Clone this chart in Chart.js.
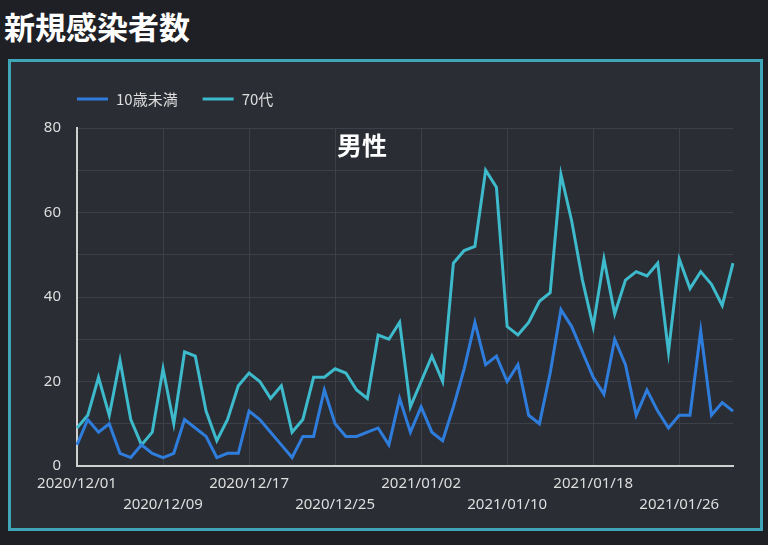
<!DOCTYPE html>
<html>
<head>
<meta charset="utf-8">
<script src="https://cdn.jsdelivr.net/npm/chart.js@4"></script>
<style>
  html, body { margin: 0; padding: 0; background: #1f2025; width: 768px; height: 545px; overflow: hidden; }
  #page-title {
    position: absolute; left: 4px; top: 3px;
    font: bold 31px "Noto Sans CJK JP", sans-serif; color: #ffffff;
  }
  #frame {
    position: absolute; left: 8px; top: 59px; width: 749px; height: 466px;
    border: 3px solid #3ea6b6; background: #2b2d34;
  }
  #wrap { position: absolute; left: 0; top: 0; width: 768px; height: 545px; }
</style>
</head>
<body>
<div id="page-title">新規感染者数</div>
<div id="frame"></div>
<div id="wrap"><canvas id="chart"></canvas></div>
<script>
// categories
const dates = [
  "2020/12/01", "2020/12/02", "2020/12/03", "2020/12/04", "2020/12/05", "2020/12/06", "2020/12/07", "2020/12/08",
  "2020/12/09", "2020/12/10", "2020/12/11", "2020/12/12", "2020/12/13", "2020/12/14", "2020/12/15", "2020/12/16",
  "2020/12/17", "2020/12/18", "2020/12/19", "2020/12/20", "2020/12/21", "2020/12/22", "2020/12/23", "2020/12/24",
  "2020/12/25", "2020/12/26", "2020/12/27", "2020/12/28", "2020/12/29", "2020/12/30", "2020/12/31", "2021/01/01",
  "2021/01/02", "2021/01/03", "2021/01/04", "2021/01/05", "2021/01/06", "2021/01/07", "2021/01/08", "2021/01/09",
  "2021/01/10", "2021/01/11", "2021/01/12", "2021/01/13", "2021/01/14", "2021/01/15", "2021/01/16", "2021/01/17",
  "2021/01/18", "2021/01/19", "2021/01/20", "2021/01/21", "2021/01/22", "2021/01/23", "2021/01/24", "2021/01/25",
  "2021/01/26", "2021/01/27", "2021/01/28", "2021/01/29", "2021/01/30", "2021/01/31"
];

// 10歳未満
const under10 = [
  5, 11, 8, 10, 3, 2, 5, 3, 2, 3, 11, 9, 7, 2, 3, 3, 13, 11, 8, 5,
  2, 7, 7, 18, 10, 7, 7, 8, 9, 5, 16, 8, 14, 8, 6, 14, 23, 34,
  24, 26, 20, 24, 12, 10, 22, 37, 33, 27, 21, 17, 30, 24, 12, 18, 13, 9, 12, 12, 32, 12, 15, 13
];

// 70代
const seventies = [
  9, 12, 21, 12, 25, 11, 5, 8, 23, 10, 27, 26, 13, 6, 11, 19, 22, 20, 16, 19,
  8, 11, 21, 21, 23, 22, 18, 16, 31, 30, 34, 14, 20, 26, 20, 48, 51, 52,
  70, 66, 33, 31, 34, 39, 41, 69, 58, 44, 33, 49, 36, 44, 46, 45, 48, 27, 49, 42, 46, 43, 38, 48
];

const seriesNames = ["10歳未満", "70代"];
const seriesColors = ["#2e7ddc", "#3dbacb"];
const yTicks = [0, 20, 40, 60, 80];

const tickColor = "#dedede";
const gridColor = "#3d4048";

// legend + inner title drawn on the canvas
const overlayPlugin = {
  id: "overlay",
  afterDraw(chart) {
    const ctx = chart.ctx;
    ctx.save();
    let x = 77;
    const y = 99;
    ctx.font = '15px "Noto Sans CJK JP", "Noto Sans", sans-serif';
    ctx.textBaseline = "middle";
    chart.data.datasets.forEach((ds) => {
      ctx.strokeStyle = ds.borderColor;
      ctx.lineWidth = 3;
      ctx.beginPath();
      ctx.moveTo(x, y);
      ctx.lineTo(x + 31, y);
      ctx.stroke();
      ctx.fillStyle = tickColor;
      ctx.textAlign = "left";
      ctx.fillText(ds.label, x + 39, y);
      x += 39 + ctx.measureText(ds.label).width + 25;
    });

    ctx.font = 'bold 25px "Noto Sans CJK JP", sans-serif';
    ctx.fillStyle = "#ffffff";
    ctx.textAlign = "center";
    ctx.fillText("男性", 362, 145);
    ctx.restore();
  }
};

new Chart(document.getElementById("chart"), {
  type: "line",
  data: {
    labels: dates,
    datasets: [
      {
        label: seriesNames[0],
        data: under10,
        borderColor: seriesColors[0],
        backgroundColor: seriesColors[0],
        borderWidth: 3,
        pointRadius: 0,
        tension: 0,
      },
      {
        label: seriesNames[1],
        data: seventies,
        borderColor: seriesColors[1],
        backgroundColor: seriesColors[1],
        borderWidth: 3,
        pointRadius: 0,
        tension: 0,
      },
    ],
  },
  options: {
    responsive: true,
    maintainAspectRatio: false,
    animation: false,
    layout: { padding: { left: 0, right: 35, top: 128, bottom: 0 } },
    plugins: {
      legend: { display: false },
      tooltip: { enabled: false },
    },
    scales: {
      x: {
        offset: false,
        afterFit: (scale) => { scale.height = 79; },
        border: { color: "#d0d0d0", width: 2 },
        grid: { color: gridColor, drawTicks: false },
        ticks: {
          autoSkip: false,
          maxRotation: 0,
          padding: 8,
          color: tickColor,
          font: { family: '"Noto Sans", sans-serif', size: 15, lineHeight: 1.35 },
          callback: function (value, index) {
            if (index % 8 !== 0) return null;
            const label = this.getLabelForValue(value);
            return (index / 8) % 2 === 0 ? label : ["", label];
          },
        },
      },
      y: {
        min: 0,
        max: 80,
        afterFit: (scale) => { scale.width = 77; },
        border: { color: "#d0d0d0", width: 2 },
        grid: { color: gridColor, drawTicks: false },
        ticks: {
          stepSize: 10,
          padding: 16,
          color: tickColor,
          font: { family: '"Noto Sans", sans-serif', size: 15 },
          callback: (v) => (yTicks.includes(v) ? v : ""),
        },
      },
    },
  },
  plugins: [overlayPlugin],
});
</script>
</body>
</html>
